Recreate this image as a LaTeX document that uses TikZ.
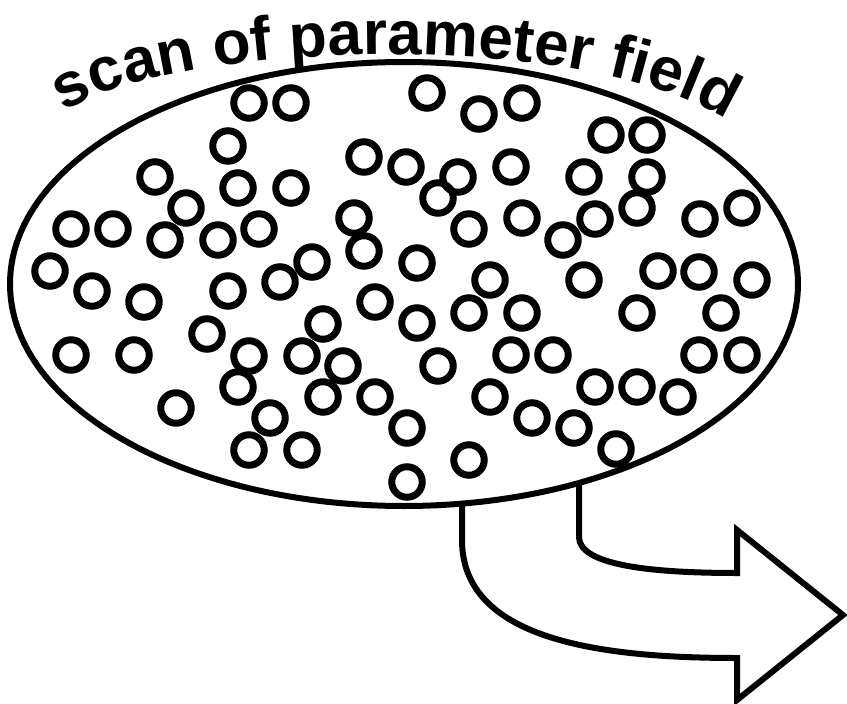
\documentclass[tikz,border=0pt]{standalone}
\usepackage{fontspec}
\newfontfamily\arcfont{Liberation Sans}
\newcommand{\arcstyle}{\arcfont\bfseries\fontsize{62}{68}\selectfont}
\usepackage{tikz}
\usetikzlibrary{decorations.text}

\begin{document}
\begin{tikzpicture}[x=1pt,y=-1pt,
  outline/.style={draw=black,line width=6pt,fill=white},
  sample/.style={circle,draw=black,line width=7pt,minimum size=30.5pt,inner sep=0pt}]
% \draw[help lines] (0,0) grid (847,704);
\useasboundingbox (0,0) rectangle (847,704);
% bent arrow out of the field
\draw[outline,line join=miter] (462,470) -- (462,540) .. controls (462,640) and (600,658) .. (737,658)
  -- (737,700) -- (843,615) -- (737,530) -- (737,573) .. controls (650,573) and (579,565) .. (579,537) -- (579,470);
\draw[outline] (404,284) ellipse [x radius=394,y radius=222];
%
\foreach \x/\y [count=\i] in {249/103,291/103,427/93,479/114,522/103,606/135,647/135,
  228/146,364/157,406/167,458/177,511/167,584/177,647/177,
  155/177,238/188,291/188,186/208,438/198,354/218,522/218,595/219,637/208,700/219,742/208,
  71/229,113/229,165/240,218/240,259/229,364/251,469/229,563/240,
  312/262,417/263,50/271,92/291,144/302,228/291,280/282,490/280,584/280,658/271,699/272,752/280,
  375/302,417/323,469/313,522/313,637/313,721/313,323/324,207/334,
  71/355,134/355,249/356,302/356,343/366,438/366,511/355,553/355,699/355,742/355,
  238/387,323/397,375/397,490/397,595/387,637/387,678/397,
  176/408,270/418,407/428,532/418,574/428,
  249/450,302/450,616/449,469/460,407/482}
  \node[sample] (s\i) at (\x,\y) {};
%
\path[decorate,decoration={text along path,text align={fit to path},
  text={|\arcstyle|scan of parameter field}}]
  (64,112) .. controls (170,42) and (580,26) .. (726,120);
\end{tikzpicture}
\end{document}
